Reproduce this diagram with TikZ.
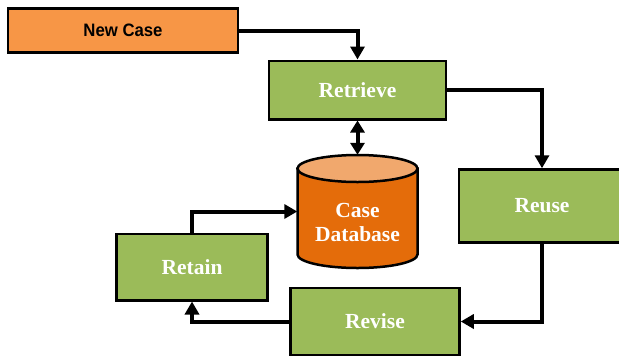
\documentclass[tikz,border=0pt]{standalone}
\usepackage{fontspec}
\setmainfont{Liberation Serif}
\newfontfamily\narrowfont[FakeStretch=0.93]{Liberation Sans}
\usetikzlibrary{arrows.meta}
\definecolor{boxgreen}{HTML}{9BBB59}
\definecolor{caseorange}{HTML}{F79646}
\definecolor{dbbody}{HTML}{E46C0A}
\definecolor{dbtop}{HTML}{F1A86D}
\tikzset{
  stepbox/.style={draw=black, line width=2.5pt, fill=boxgreen, text=white,
    font=\fontsize{21.5}{24}\selectfont\bfseries, inner sep=0pt},
  conn/.style={line width=4pt, -{Triangle[width=14pt,length=13pt]}},
  biconn/.style={line width=4pt, {Triangle[width=14pt,length=12pt]}-{Triangle[width=14pt,length=12pt]}},
}
\begin{document}
\begin{tikzpicture}[x=1pt, y=-1pt]
\useasboundingbox (0,0) rectangle (619,357);
\clip (0,0) rectangle (619,357);
\node[draw=black, line width=2.5pt, fill=caseorange, minimum width=230pt, minimum height=44pt, inner sep=0pt,
  font=\narrowfont\fontsize{18}{20}\selectfont\bfseries] (newcase) at (123,30.5) {New Case};
\node[stepbox, minimum width=177pt, minimum height=58.5pt] (retrieve) at (357.5,90) {\raisebox{-2pt}{Retrieve}};
\node[stepbox, minimum width=166pt, minimum height=73pt] (reuse) at (542,206) {\raisebox{-2pt}{Reuse}};
\node[stepbox, minimum width=169pt, minimum height=67pt] (revise) at (375,321.5) {\raisebox{-2pt}{Revise}};
\node[stepbox, minimum width=151pt, minimum height=66.5pt] (retain) at (192,267) {\raisebox{-2pt}{Retain}};
% database cylinder
\node[minimum width=120pt, minimum height=113pt, inner sep=0pt] (db) at (357.5,211.5) {};
\draw[line width=2.5pt, fill=dbbody] (297.5,168.5) -- (297.5,254.5)
  arc[start angle=180, end angle=0, x radius=60, y radius=13.5] -- (417.5,168.5) -- cycle;
\draw[line width=2.5pt, fill=dbtop] (357.5,168.5) ellipse [x radius=60, y radius=13.5];
\node[text=white, font=\fontsize{21.5}{24}\selectfont\bfseries, align=center] (dblabel) at (357.5,222) {Case\\Database};
% connectors
\draw[conn] (newcase.east) -| (retrieve.north);
\draw[conn] (retrieve.east) -| (reuse.north);
\draw[conn] (reuse.south) |- (revise.east);
\draw[conn] (revise.west) -| (retain.south);
\draw[conn] (retain.north) |- (db.west);
\draw[biconn] (retrieve.south) -- (db.north);
\end{tikzpicture}
\end{document}
